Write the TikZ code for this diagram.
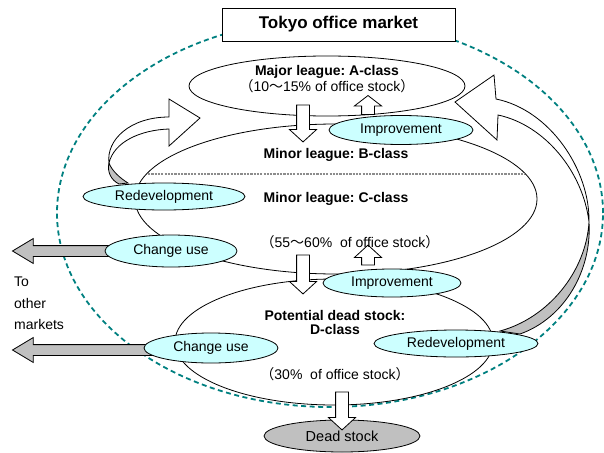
\documentclass[tikz,border=0pt]{standalone}
\usepackage{fontspec}
\setmainfont{Liberation Sans}
\newfontfamily\cjkfont{Noto Sans CJK JP}
\definecolor{ActionColor}{RGB}{204,255,255}
\definecolor{DeadColor}{RGB}{192,192,192}
\definecolor{MarketColor}{RGB}{0,128,128}
\definecolor{DividerColor}{RGB}{140,140,140}
\usetikzlibrary{shapes.geometric, shapes.arrows, positioning}
\newcommand{\lpar}{{\cjkfont （}}
\newcommand{\rpar}{{\cjkfont ）}}
\newcommand{\wave}{{\cjkfont ～}}
\frenchspacing
\tikzstyle{classbox} = [ellipse, draw, line width=0.8pt, inner sep=0pt]
\tikzstyle{actionbox} = [ellipse, draw, line width=0.8pt, fill=ActionColor, inner sep=0pt, font=\fontsize{14}{16}\selectfont]
\tikzstyle{classtext} = [font=\bfseries\fontsize{14}{14}\selectfont, align=center, inner sep=0pt]
\tikzstyle{sharetext} = [font=\fontsize{14}{16}\selectfont, inner sep=0pt]
\tikzstyle{shiftarrow} = [single arrow, draw, line width=0.8pt, fill=white, inner sep=6pt, minimum width=25pt, single arrow tip angle=95]
\tikzstyle{exitarrow} = [single arrow, draw, line width=0.8pt, fill=DeadColor, inner sep=5pt, minimum width=22pt, single arrow tip angle=62, rotate=180]
\tikzstyle{ribbon} = [draw, line width=0.8pt, fill=white, line join=miter]
\tikzstyle{ribbonback} = [draw, line width=0.8pt, fill=DeadColor]

\begin{document}
\begin{tikzpicture}[x=1pt, y=-1pt]
            \useasboundingbox (0,0) rectangle (604,452);

            % Market boundary
            \node[ellipse, draw=MarketColor, line width=1.8pt, dash pattern=on 5pt off 3.5pt, minimum width=546pt, minimum height=388pt] (market) at (330,213) {};
            \node[draw, fill=white, line width=0.8pt, minimum width=233pt, minimum height=33pt, font=\bfseries\fontsize{17}{19}\selectfont] (title) at (338.5,24.5) {Tokyo office market};

            % Classes
            \node[classbox, minimum width=276pt, minimum height=60pt] (aclass) at (327,86) {};
            \node[classbox, minimum width=402pt, minimum height=150pt] (bcclass) at (336,199) {};
            \node[classbox, minimum width=318pt, minimum height=126pt] (dclass) at (334,342) {};
            \node[ellipse, draw, line width=0.8pt, fill=DeadColor, minimum width=156pt, minimum height=32pt, font=\fontsize{14.5}{16}\selectfont] (dead) at (342,436) {Dead stock};
            \draw[DividerColor, line width=2.2pt, dash pattern=on 2.2pt off 1.1pt] (148,174) -- (525,174);

            % Redevelopment ribbons
            \draw[ribbon] (496,99) -- (494,75) -- (455,102) -- (497,140) -- (498,115)
                .. controls (545,125) and (583,172) .. (589,222)
                .. controls (590,170) and (550,110) .. (496,99) -- cycle;
            \draw[ribbonback] (589,222) .. controls (592,270) and (565,318) .. (520,334)
                -- (500,331) .. controls (548,318) and (586,272) .. (589,222) -- cycle;
            \draw[ribbon] (169,117) -- (169,99) -- (200,118) -- (169,146) -- (169,129)
                .. controls (140,130) and (114,142) .. (109,163)
                .. controls (106,140) and (130,117) .. (169,117) -- cycle;
            \draw[ribbonback] (109,163) .. controls (107,172) and (111,180) .. (119,184)
                -- (128,183) .. controls (120,178) and (112,171) .. (109,163) -- cycle;

            % Moves between classes
            \node[shiftarrow, rotate=-90, minimum height=37pt] (atob) at (303,120.5) {};
            \node[shiftarrow, rotate=90, minimum height=19pt, single arrow tip angle=105] (btoa) at (368,107.5) {};
            \node[shiftarrow, rotate=-90, minimum height=39pt] (btod) at (303,271.5) {};
            \node[shiftarrow, rotate=90, minimum height=20pt] (dtob) at (368,258) {};
            \node[shiftarrow, rotate=-90, minimum height=38pt, minimum width=27pt] (dtodead) at (342,408) {};
            \node[exitarrow, minimum height=113pt] (upperexit) at (73.5,251) {};
            \node[exitarrow, minimum height=143pt] (lowerexit) at (88.5,350) {};

            % Actions
            \node[actionbox, minimum width=144pt, minimum height=29pt] (improvea) at (401,130) {Improvement};
            \node[actionbox, minimum width=162pt, minimum height=27pt] (redevc) at (164,196.5) {Redevelopment};
            \node[actionbox, minimum width=132pt, minimum height=32pt] (changec) at (171,251) {Change use};
            \node[actionbox, minimum width=138pt, minimum height=28pt] (improved) at (392,283) {Improvement};
            \node[actionbox, minimum width=134pt, minimum height=30pt] (changed) at (211,348) {Change use};
            \node[actionbox, minimum width=164pt, minimum height=27pt] (redevd) at (456,343.5) {Redevelopment};

            % Class labels
            \node[classtext] (aname) at (327,72) {Major league: A-class};
            \node[sharetext] (ashare) at (327,86.5) {\lpar 10\wave 15\% of office stock\rpar};
            \node[classtext] (bname) at (336,155) {Minor league: B-class};
            \node[classtext] (cname) at (336,199) {Minor league: C-class};
            \node[sharetext] (bcshare) at (350,242) {\lpar 55\wave 60\%\ \ of office stock\rpar};
            \node[classtext] (dname) at (335,322) {Potential dead stock:\\D-class};
            \node[sharetext] (dshare) at (335,374) {\lpar 30\%\ \ of office stock\rpar};
            \node[anchor=west, align=left, inner sep=0pt, font=\fontsize{14}{21.5}\selectfont] (others) at (14,303.5) {To\\other\\markets};
        \end{tikzpicture}
\end{document}
